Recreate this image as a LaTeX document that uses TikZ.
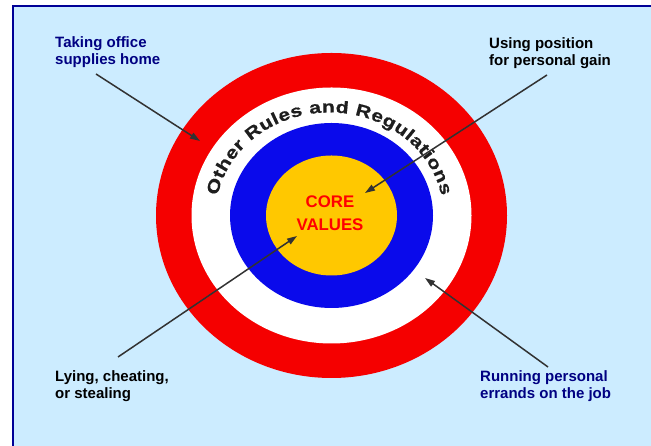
\documentclass[tikz,border=0pt]{standalone}
\usepackage{fontspec}
\setmainfont{Liberation Sans}
\newfontfamily\arcfont{Liberation Sans}[FakeStretch=1.25,BoldFeatures={FakeStretch=1.25,FakeBold=0.6}]
\usetikzlibrary{arrows.meta,decorations.text}
\definecolor{bgblue}{RGB}{204,236,255}
\definecolor{framenavy}{RGB}{0,0,150}
\definecolor{textnavy}{RGB}{0,0,130}
\definecolor{ringred}{RGB}{245,0,0}
\definecolor{ringblue}{RGB}{10,10,235}
\definecolor{coreyellow}{RGB}{255,200,0}
\definecolor{arrowgray}{RGB}{50,50,50}
\definecolor{arcgray}{RGB}{30,30,30}
\begin{document}
\begin{tikzpicture}[x=1pt,y=1pt,
  pointer/.style={draw=arrowgray, line width=1.5pt, -{Triangle[length=10pt,width=6.5pt]}},
  lbl/.style={anchor=north west, inner sep=0pt, align=left, font=\bfseries\fontsize{15}{17}\selectfont}]
\useasboundingbox (0,0) rectangle (651,446);
\fill[white] (0,0) rectangle (651,446);
\begin{scope}
  \clip (0,0) rectangle (651,446);
  \draw[fill=bgblue, draw=framenavy, line width=2pt] (13,440) rectangle (670,-20);
\end{scope}
% target rings
\coordinate (C) at (331.5,230.5);
\fill[ringred]    (C) ellipse [x radius=175.5, y radius=162.5];
\fill[white]      (C) ellipse [x radius=140, y radius=128];
\fill[ringblue]   (C) ellipse [x radius=101.5, y radius=92.5];
\fill[coreyellow] (C) ellipse [x radius=65.5, y radius=60];
% curved text
\coordinate (T) at (329.5,230.5);
\path[decorate, decoration={text along path, text align=fit to path,
  text={|\arcfont\bfseries\fontsize{17}{18}\selectfont\color{arcgray}|Other Rules and Regulations}}]
  (T) ++(169:114 and 103) arc[start angle=169, end angle=11, x radius=114, y radius=103];
% core text
\node[inner sep=0pt, align=center, text=red, font=\bfseries\fontsize{16.8}{23.5}\selectfont] (core) at (330,233) {CORE\\VALUES};
% labels
\node[lbl, text=textnavy] (office) at (55,409.5) {Taking office\\supplies home};
\node[lbl, text=black] (position) at (489,409) {Using position\\for personal gain};
\node[lbl, text=black] (lying) at (55,75.5) {Lying, cheating,\\or stealing};
\node[lbl, text=textnavy] (errands) at (480,76) {Running personal\\errands on the job};
% arrows
\coordinate (a1s) at (96,372);  \coordinate (a1e) at (200,305);
\coordinate (a2s) at (547,371); \coordinate (a2e) at (365,253);
\coordinate (a3s) at (118,89);  \coordinate (a3e) at (297,210);
\coordinate (a4s) at (548,79);  \coordinate (a4e) at (425,168);
\draw[pointer] (a1s) -- (a1e);
\draw[pointer] (a2s) -- (a2e);
\draw[pointer] (a3s) -- (a3e);
\draw[pointer] (a4s) -- (a4e);
\end{tikzpicture}
\end{document}
